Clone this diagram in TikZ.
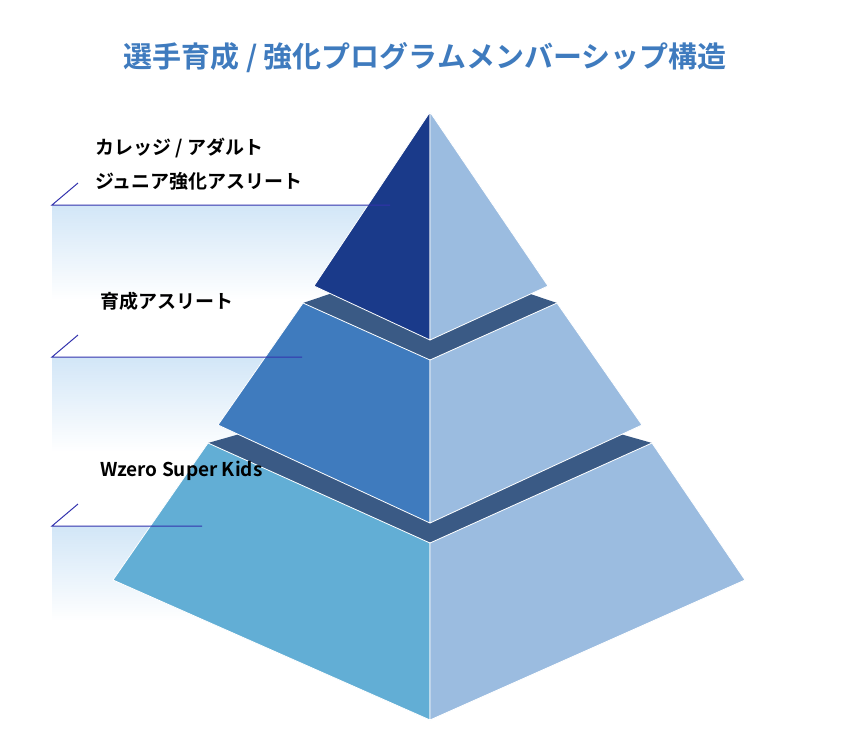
\documentclass[tikz,border=0pt]{standalone}
\usepackage{fontspec}
\newfontfamily\cjk{Noto Sans CJK JP Bold}
\begin{document}
\begin{tikzpicture}[x=1pt,y=-1pt,
  face/.style={draw=white,line width=0.8pt,line join=round},
  lbl/.style={anchor=west,font=\cjk\fontsize{19}{22}\selectfont,text=black,inner sep=0pt},
  lead/.style={draw=blue!60!black!80,line width=1pt}]
\useasboundingbox (0,0) rectangle (846,750);
\definecolor{topc}{HTML}{1A3A8A}
\definecolor{rightc}{HTML}{9BBCE0}
\definecolor{midc}{HTML}{3F7BBE}
\definecolor{botc}{HTML}{62AED5}
\definecolor{bandc}{HTML}{3A5A85}
\definecolor{titlec}{HTML}{3F7BBE}
\definecolor{fadec}{HTML}{D2E6F7}
% gradient panels
\foreach \y in {205,357,526}{
  \shade[top color=fadec,bottom color=white] (52,\y) rectangle (430,\y+95);
}
\coordinate (l1a) at (52,205); \coordinate (l1b) at (390,205); \coordinate (t1) at (78,183);
\coordinate (l2a) at (52,357); \coordinate (l2b) at (302,357); \coordinate (t2) at (78,335);
\coordinate (l3a) at (52,526); \coordinate (l3b) at (202,526); \coordinate (t3) at (78,504);
% bottom block
\fill[bandc] (208,443) -- (430,543) -- (652,443) -- (430,380) -- cycle;
\path[face,fill=botc] (208,443) -- (113,580) -- (430,720) -- (430,543) -- cycle;
\path[face,fill=rightc] (430,543) -- (652,443) -- (745,580) -- (430,720) -- cycle;
% middle block
\fill[bandc] (303,303) -- (430,360) -- (557,303) -- (430,260) -- cycle;
\path[face,fill=midc] (303,303) -- (218,425) -- (430,523) -- (430,360) -- cycle;
\path[face,fill=rightc] (430,360) -- (557,303) -- (642,425) -- (430,523) -- cycle;
% top block
\path[face,fill=topc] (430,112) -- (314,286) -- (430,340) -- cycle;
\path[face,fill=rightc] (430,112) -- (548,286) -- (430,340) -- cycle;
% leader lines
\draw[lead] (t1) -- (l1a) -- (l1b);
\draw[lead] (t2) -- (l2a) -- (l2b);
\draw[lead] (t3) -- (l3a) -- (l3b);
% labels
\node[lbl] (a1) at (95,148) {カレッジ / アダルト};
\node[lbl] (a2) at (95,181) {ジュニア強化アスリート};
\node[lbl] (b) at (100,301) {育成アスリート};
\node[lbl] (c) at (100,471) {Wzero Super Kids};
\node[font=\cjk\fontsize{29}{32}\selectfont,text=titlec] (title) at (425,58) {選手育成 / 強化プログラムメンバーシップ構造};
\end{tikzpicture}
\end{document}
